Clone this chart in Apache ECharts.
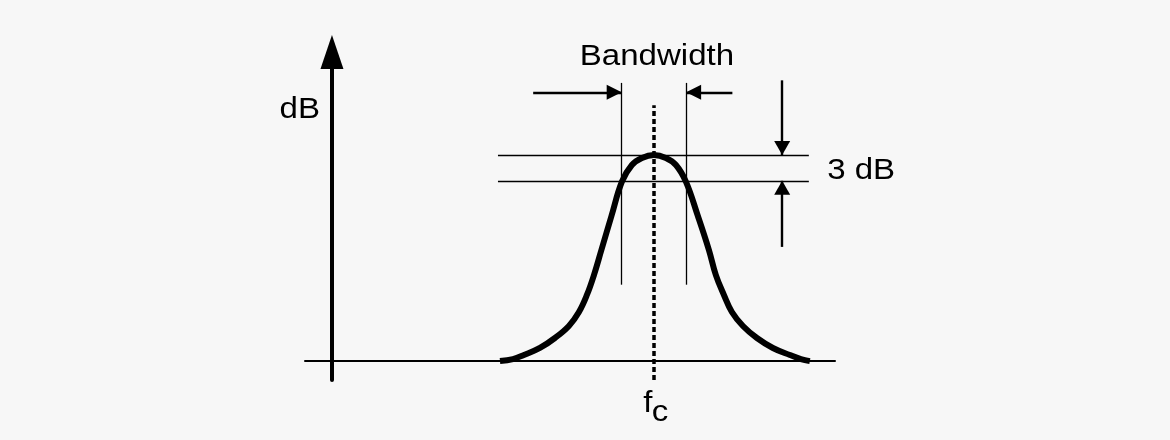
<!DOCTYPE html>
<html>
<head>
<meta charset="utf-8">
<script src="https://cdn.jsdelivr.net/npm/echarts@6/dist/echarts.min.js"></script>
<style>
html,body{margin:0;padding:0;background:#f7f7f7;}
#chart{width:1170px;height:440px;}
</style>
</head>
<body>
<div id="chart"></div>
<script>
// Band-pass response curve (x: frequency units, y: dB above baseline)
const curveX = [16.7, 17.99, 19.08, 20.67, 22.16, 23.55, 24.55, 25.34, 26.04, 26.78, 27.78, 28.82, 29.81, 30.81, 32.0, 33.19, 34.19, 35.18, 36.37, 37.47, 38.16, 38.96, 39.75, 40.85, 42.24, 43.83, 45.52, 46.61, 47.5];
const curveY = [0, 0.24, 0.71, 1.53, 2.69, 4.09, 5.72, 7.7, 10.02, 12.94, 16.9, 20.9, 22.84, 23.66, 24.0, 23.66, 22.84, 20.9, 16.9, 12.94, 10.02, 7.7, 5.72, 4.09, 2.69, 1.53, 0.71, 0.24, 0];

const fc = 32.0;          // centre frequency
const peakDb = 24;        // peak level
const halfPowerDb = 21;   // 3 dB below peak
const bwLow = 28.8;       // lower -3 dB frequency
const bwHigh = 35.2;      // upper -3 dB frequency
const refLineX = [16.5, 47.4];   // extent of horizontal reference lines
const bwLineY = [8.9, 32.4];     // extent of bandwidth marker lines
const fcLineY = [-2.2, 29.8];    // extent of dashed fc line
const bwArrowY = 31.3;
const bwArrowStart = [20.0, 39.8];
const dbArrowX = 44.75;
const dbArrowStart = [32.7, 13.3];

// Labels
const textLabels = ['Bandwidth', 'dB', '3 dB', 'f', 'c'];
const textX = [32.3, -3.2, 52.6, 31.4, 32.6];
const textY = [35.4, 29.3, 22.1, -5.0, -6.1];

const chart = echarts.init(document.getElementById('chart'), null, {renderer: 'canvas'});

function seg(p1, p2, style, size) {
  const end = {coord: p2, symbol: 'none', lineStyle: style};
  if (size) {
    end.symbol = 'triangle';
    end.symbolSize = size;
    end.symbolOffset = [0, size[1] / 2];
  }
  return [{coord: p1, symbol: 'none'}, end];
}

const thin = {color: '#000', width: 1.3, type: 'solid'};
const shaft = {color: '#000', width: 2.4, type: 'solid'};
const dashed = {color: '#000', width: 3.5, type: [5, 3]};

const markData = [
  seg([refLineX[0], peakDb], [refLineX[1], peakDb], thin),
  seg([refLineX[0], halfPowerDb], [refLineX[1], halfPowerDb], thin),
  seg([bwLow, bwLineY[0]], [bwLow, bwLineY[1]], thin),
  seg([bwHigh, bwLineY[0]], [bwHigh, bwLineY[1]], thin),
  seg([fc, fcLineY[0]], [fc, fcLineY[1]], dashed),
  seg([bwArrowStart[0], bwArrowY], [bwLow, bwArrowY], shaft, [15, 15]),
  seg([bwArrowStart[1], bwArrowY], [bwHigh, bwArrowY], shaft, [15, 15]),
  seg([dbArrowX, dbArrowStart[0]], [dbArrowX, peakDb], shaft, [16, 14]),
  seg([dbArrowX, dbArrowStart[1]], [dbArrowX, halfPowerDb], shaft, [16, 14])
];

const option = {
  backgroundColor: '#f7f7f7',
  animation: false,
  grid: {left: 305, right: 335, top: 52, bottom: 60},
  xAxis: {
    type: 'value', min: -2.68, max: 50,
    axisLine: {show: true, onZero: true, lineStyle: {color: '#000', width: 2}},
    axisTick: {show: false}, axisLabel: {show: false}, splitLine: {show: false}
  },
  yAxis: {
    type: 'value', min: -2.2, max: 36,
    axisLine: {show: true, onZero: true, symbol: ['none', 'triangle'], symbolSize: [23, 34], lineStyle: {color: '#000', width: 4}},
    axisTick: {show: false}, axisLabel: {show: false}, splitLine: {show: false}
  },
  series: [
    {
      type: 'line',
      data: [],
      silent: true,
      markLine: {
        silent: true,
        animation: false,
        label: {show: false},
        emphasis: {disabled: true},
        symbol: ['none', 'none'],
        data: markData
      }
    },
    {
      type: 'line',
      data: curveX.map((x, i) => [x, curveY[i]]),
      smooth: 0.4,
      showSymbol: false,
      lineStyle: {color: '#000', width: 6},
      z: 5
    },
    {
      type: 'custom',
      data: textX.map((x, i) => [x, textY[i]]),
      renderItem: function (params, api) {
        const p = api.coord([api.value(0), api.value(1)]);
        return {
          type: 'text',
          x: p[0], y: p[1],
          scaleX: 1.14,
          style: {
            text: textLabels[params.dataIndex],
            font: '29px "Liberation Sans", Arial, sans-serif',
            fill: '#000',
            align: 'center',
            verticalAlign: 'middle'
          }
        };
      },
      z: 10
    }
  ]
};
chart.setOption(option);
</script>
</body>
</html>
